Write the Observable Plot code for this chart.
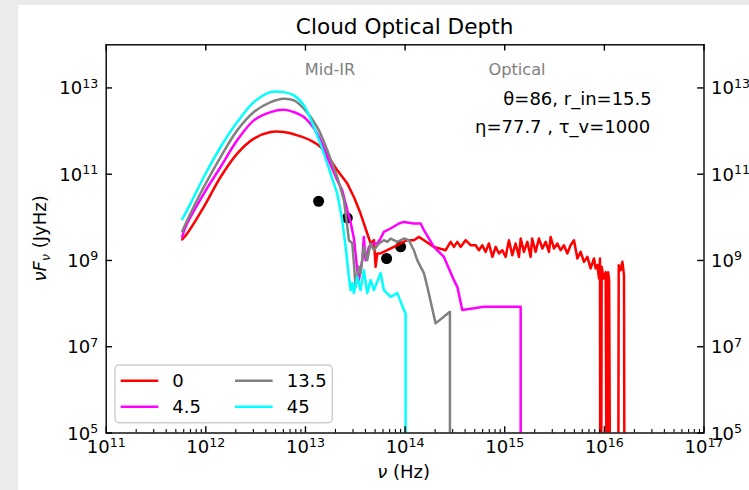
<!DOCTYPE html>
<html><head><meta charset="utf-8">
<script src="https://cdn.jsdelivr.net/npm/d3@7"></script>
<script src="https://cdn.jsdelivr.net/npm/@observablehq/plot@0.6"></script>
<style>
html,body{margin:0;padding:0;background:#ebebeb;width:749px;height:490px;overflow:hidden;}
#fig{position:absolute;left:18px;top:5px;width:731px;height:485px;background:#fff;}
</style></head><body><div id="fig"></div>
<script>
// Series names and colours (legend order)
const seriesNames = ["0", "4.5", "13.5", "45"];
const seriesColors = ["#ff0000", "#ff00ff", "#808080", "#00ffff"];

// Values, stored as log10(ν [Hz]) and log10(νFν [JyHz]).
// A value of 3 means "below the plotted range" (curve drops to zero).
const logNu_0 = [11.763, 11.813, 11.980, 12.148, 12.315, 12.482, 12.650, 12.783, 12.918, 13.051,
  13.152, 13.252, 13.319, 13.420, 13.486, 13.553, 13.620, 13.654, 13.687, 13.704,
  13.721, 13.754, 13.821, 13.888, 13.955, 14.022, 14.088, 14.139, 14.189, 14.289,
  14.407, 14.457, 14.490, 14.524, 14.557, 14.607, 14.658, 14.708, 14.741, 14.775,
  14.808, 14.841, 14.876, 14.909, 14.942, 14.976, 15.009, 15.042, 15.076, 15.109,
  15.143, 15.160, 15.193, 15.227, 15.260, 15.275, 15.310, 15.343, 15.378, 15.411,
  15.444, 15.461, 15.494, 15.528, 15.561, 15.594, 15.628, 15.661, 15.695, 15.729,
  15.762, 15.795, 15.829, 15.862, 15.896, 15.913, 15.930, 15.946, 15.956, 15.959,
  15.968, 15.973, 15.993, 16.013, 16.023, 16.033, 16.038, 16.048, 16.058, 16.139,
  16.144, 16.164, 16.181, 16.197, 16.202];
const logF_0 = [9.486, 9.625, 10.241, 10.935, 11.477, 11.824, 11.977, 11.977, 11.900, 11.785,
  11.630, 11.322, 11.090, 10.782, 10.472, 10.088, 9.625, 9.394, 9.470, 8.852,
  9.162, 9.162, 9.238, 9.315, 9.394, 9.470, 9.470, 9.546, 9.470, 9.315,
  9.238, 9.431, 9.315, 9.431, 9.315, 9.470, 9.354, 9.354, 9.238, 9.354,
  9.199, 9.394, 9.083, 9.315, 9.162, 9.238, 9.083, 9.470, 9.122, 9.394,
  9.083, 9.509, 9.199, 9.431, 9.083, 9.509, 9.199, 9.509, 9.278, 9.431,
  9.199, 9.546, 9.278, 9.394, 9.238, 9.354, 9.162, 9.354, 9.470, 9.046,
  9.199, 8.968, 9.083, 8.815, 9.046, 8.815, 8.891, 8.583, 9.046, 3,
  3, 8.852, 8.583, 8.729, 3, 3, 8.729, 8.544, 3, 3,
  8.891, 8.775, 8.968, 8.660, 3];

const logNu_4_5 = [11.763, 11.796, 11.980, 12.148, 12.315, 12.482, 12.650, 12.783, 12.884, 12.984,
  13.118, 13.219, 13.319, 13.369, 13.420, 13.453, 13.486, 13.520, 13.536, 13.570,
  13.586, 13.603, 13.637, 13.687, 13.721, 13.754, 13.787, 13.854, 13.938, 13.988,
  14.088, 14.156, 14.189, 14.289, 14.390, 14.490, 14.524, 14.574, 14.791, 15.160, 15.160];
const logF_4_5 = [9.546, 9.778, 10.551, 11.167, 11.785, 12.248, 12.440, 12.495, 12.440, 12.324,
  11.940, 11.398, 10.859, 10.627, 10.164, 9.887, 9.516, 8.775, 8.544, 9.007,
  9.546, 9.007, 9.315, 9.394, 9.394, 9.509, 9.662, 9.741, 9.856, 9.894,
  9.856, 9.856, 9.701, 9.315, 9.083, 8.544, 8.389, 7.850, 7.926, 7.926, 3];

const logNu_13_5 = [11.763, 11.829, 11.980, 12.148, 12.315, 12.482, 12.650, 12.783, 12.884, 12.984,
  13.118, 13.219, 13.319, 13.386, 13.403, 13.436, 13.470, 13.486, 13.503, 13.536,
  13.553, 13.586, 13.620, 13.654, 13.687, 13.737, 13.787, 13.821, 13.854, 13.922,
  13.988, 14.038, 14.088, 14.122, 14.156, 14.189, 14.223, 14.306, 14.450, 14.450];
const logF_13_5 = [9.678, 10.009, 10.704, 11.398, 12.016, 12.440, 12.671, 12.750, 12.711, 12.519,
  12.093, 11.553, 10.935, 10.396, 10.095, 9.470, 9.400, 8.937, 8.389, 8.852,
  8.706, 9.315, 9.007, 9.394, 9.238, 9.394, 9.470, 9.431, 9.509, 9.431,
  9.509, 9.470, 9.238, 9.007, 8.852, 8.706, 8.389, 7.542, 7.810, 3];

const logNu_45 = [11.763, 11.846, 11.980, 12.148, 12.315, 12.482, 12.650, 12.783, 12.884, 12.984,
  13.084, 13.185, 13.252, 13.319, 13.369, 13.403, 13.436, 13.453, 13.470, 13.486,
  13.520, 13.553, 13.586, 13.620, 13.654, 13.687, 13.754, 13.787, 13.854, 13.922,
  13.988, 14.005, 14.005];
const logF_45 = [9.956, 10.319, 10.935, 11.630, 12.208, 12.671, 12.903, 12.903, 12.826, 12.595,
  12.093, 11.477, 11.014, 10.551, 9.933, 9.315, 8.620, 8.313, 8.475, 8.243,
  8.620, 8.313, 8.775, 8.243, 8.544, 8.313, 8.706, 8.313, 8.157, 8.243,
  7.850, 7.773, 3];

// Observed photometry (black dots)
const obsNu = [1.355e13, 2.63e13, 6.52e13, 9.02e13];
const obsF = [2.36e10, 9.7e9, 1.11e9, 2.07e9];

// Tick values
const xTicks = [1e11, 1e12, 1e13, 1e14, 1e15, 1e16, 1e17];
const yTicks = [1e5, 1e7, 1e9, 1e11, 1e13];
const xMinorTicks = [];
for (let e = 11; e < 17; e++) for (let m = 2; m <= 9; m++) xMinorTicks.push(m * 10 ** e);

// Build tables: the smooth thermal bump (drawn as a spline) and the rest (straight segments)
const smoothRows = [], jaggedRows = [];
const SPLIT = 13.3;
function addSeries(name, lx, ly) {
  const k = lx.findIndex(v => v > SPLIT);
  lx.forEach((v, i) => {
    const r = {s: name, nu: 10 ** v, f: 10 ** ly[i]};
    if (i <= k - 1) smoothRows.push(r);
    if (i >= k - 1) jaggedRows.push(r);
  });
}
addSeries("0", logNu_0, logF_0);
addSeries("4.5", logNu_4_5, logF_4_5);
addSeries("13.5", logNu_13_5, logF_13_5);
addSeries("45", logNu_45, logF_45);
const obs = obsNu.map((v, i) => ({nu: v, f: obsF[i]}));

const W = 731, H = 485;
const mL = 87.7, mR = 45.5, mT = 39.3, mB = 57.5;
const FW = W - mL - mR, FH = H - mT - mB;
const expFmt = d => "10^" + Math.round(Math.log10(d));
const LW = 2.5;

const chart = Plot.plot({
  width: W, height: H,
  marginLeft: mL, marginRight: mR, marginTop: mT, marginBottom: mB,
  style: {fontFamily: "DejaVu Sans", fontSize: "18px", background: "transparent", color: "black"},
  x: {type: "log", domain: [1e11, 1e17]},
  y: {type: "log", domain: [1e5, 1e14]},
  color: {domain: seriesNames, range: seriesColors},
  marks: [
    Plot.dot(obs, {x: "nu", y: "f", r: 5.5, fill: "black", stroke: null}),
    Plot.line(smoothRows, {x: "nu", y: "f", z: "s", stroke: "s", strokeWidth: LW, clip: true, curve: "catmull-rom"}),
    Plot.line(jaggedRows, {x: "nu", y: "f", z: "s", stroke: "s", strokeWidth: LW, clip: true, strokeLinejoin: "round"}),
    Plot.frame({stroke: "black", strokeWidth: 1.4}),
    Plot.tickX(xTicks, {x: d => d, insetTop: FH - 6.3, stroke: "black", strokeWidth: 1.4}),
    Plot.tickX(xTicks, {x: d => d, insetBottom: FH - 6.3, stroke: "black", strokeWidth: 1.4}),
    Plot.tickX(xMinorTicks, {x: d => d, insetTop: FH - 3.6, stroke: "black", strokeWidth: 1.1}),
    Plot.tickY(yTicks, {y: d => d, insetRight: FW - 6.3, stroke: "black", strokeWidth: 1.4}),
    Plot.tickY(yTicks, {y: d => d, insetLeft: FW - 6.3, stroke: "black", strokeWidth: 1.4}),
    Plot.axisX({ticks: xTicks, anchor: "bottom", tickSize: 0, tickPadding: 7.5, tickFormat: expFmt, label: null}),
    Plot.axisY({ticks: yTicks, anchor: "left", tickSize: 0, tickPadding: 8, tickFormat: expFmt, label: null, dy: 0.8}),
    Plot.axisY({ticks: yTicks, anchor: "right", tickSize: 0, tickPadding: 7, tickFormat: expFmt, label: null, dy: 0.8})
  ]
});

const svg = d3.select(chart);
svg.attr("font-family", "DejaVu Sans");
// Superscript exponents on tick labels
svg.selectAll('g[aria-label$="tick label"] text').each(function () {
  const t = this.textContent;
  if (!t.includes("^")) return;
  const [b, e] = t.split("^");
  const sel = d3.select(this);
  sel.text(b);
  sel.append("tspan").attr("font-size", "12.6px").attr("dy", "-6.6").text(e);
});

// Title
svg.append("text").attr("x", mL + FW / 2).attr("y", 29).attr("text-anchor", "middle")
  .attr("font-size", "21.6px").attr("fill", "black").text("Cloud Optical Depth");

// x label
const xl = svg.append("text").attr("x", mL + FW / 2 - 1).attr("y", 473).attr("text-anchor", "middle")
  .attr("font-size", "18px").attr("fill", "black");
xl.append("tspan").attr("font-style", "italic").text("ν");
xl.append("tspan").text(" (Hz)");

// y label
const yl = svg.append("text").attr("transform", `translate(28,${mT + FH / 2}) rotate(-90)`)
  .attr("text-anchor", "middle").attr("font-size", "18px").attr("fill", "black");
yl.append("tspan").attr("font-style", "italic").text("νF");
yl.append("tspan").attr("font-style", "italic").attr("font-size", "12.6px").attr("dy", 4).text("ν");
yl.append("tspan").attr("dy", -4).text(" (JyHz)");

// Annotations
svg.append("text").attr("x", 312).attr("y", 70).attr("text-anchor", "middle")
  .attr("font-size", "16.2px").attr("fill", "#808080").text("Mid-IR");
svg.append("text").attr("x", 499).attr("y", 70).attr("text-anchor", "middle")
  .attr("font-size", "16.2px").attr("fill", "#808080").text("Optical");
svg.append("text").attr("x", 485.3).attr("y", 99.5).attr("text-anchor", "start")
  .attr("font-size", "18px").attr("fill", "black").text("θ=86, r_in=15.5");
svg.append("text").attr("x", 457).attr("y", 127.7).attr("text-anchor", "start")
  .attr("font-size", "18px").attr("fill", "black").text("η=77.7 , τ_v=1000");

// Legend
const lg = svg.append("g");
lg.append("rect").attr("x", 97).attr("y", 360).attr("width", 217.3).attr("height", 57.7).attr("rx", 4)
  .attr("fill", "white").attr("fill-opacity", 0.8).attr("stroke", "#cccccc").attr("stroke-width", 1.4);
const legendItems = [
  {name: "0", col: 0, row: 0}, {name: "4.5", col: 0, row: 1},
  {name: "13.5", col: 1, row: 0}, {name: "45", col: 1, row: 1}
];
const colX = [102.7, 217], labX = [154.3, 268.7], rowY = [375.7, 401.7];
legendItems.forEach(it => {
  const c = seriesColors[seriesNames.indexOf(it.name)];
  lg.append("line").attr("x1", colX[it.col]).attr("x2", colX[it.col] + 37.6)
    .attr("y1", rowY[it.row]).attr("y2", rowY[it.row]).attr("stroke", c).attr("stroke-width", LW);
  lg.append("text").attr("x", labX[it.col]).attr("y", rowY[it.row] + 6.6).attr("text-anchor", "start")
    .attr("font-size", "18px").attr("fill", "black").text(it.name);
});

document.getElementById("fig").appendChild(chart);
</script></body></html>
